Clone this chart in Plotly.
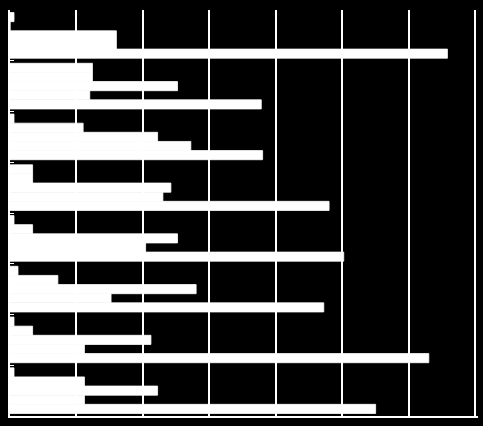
import plotly.graph_objects as go

categories = ["G1", "G2", "G3", "G4", "G5", "G6", "G7", "G8"]
series_names = ["S1", "S2", "S3", "S4", "S5"]
s1 = [0.3, 6.2, 0.3, 1.7, 0.3, 0.6, 0.3, 0.3]
s2 = [0.0, 6.2, 5.5, 1.7, 1.7, 3.6, 1.7, 5.6]
s3 = [8.0, 12.6, 11.1, 12.1, 12.6, 14.0, 10.6, 11.1]
s4 = [8.0, 6.0, 13.6, 11.5, 10.2, 7.6, 5.6, 5.6]
s5 = [32.9, 18.9, 19.0, 24.0, 25.1, 23.6, 31.5, 27.5]
series = [s1, s2, s3, s4, s5]

fig = go.Figure()
for name, vals in zip(series_names, series):
    fig.add_trace(go.Bar(
        y=categories, x=vals, name=name, orientation="h",
        marker=dict(color="white", line=dict(width=0.8, color="white")),
    ))

fig.update_layout(
    width=483, height=426,
    paper_bgcolor="black", plot_bgcolor="black",
    margin=dict(l=10, r=5, t=10, b=10),
    barmode="group", bargap=0.1, bargroupgap=0,
    showlegend=False,
    xaxis=dict(range=[0, 35.2], tickvals=[0, 5, 10, 15, 20, 25, 30, 35], showgrid=True,
               gridcolor="white", gridwidth=2,
               showticklabels=False, zeroline=False, showline=True, linecolor="white",
               linewidth=2, ticks="inside", ticklen=4, tickcolor="white", mirror=False),
    yaxis=dict(autorange="reversed", showticklabels=False, showgrid=False,
               showline=True, linecolor="white", linewidth=2, ticks="inside",
               tickson="boundaries", ticklen=4, tickcolor="white"),
)
fig.write_html("out.html", config={"displayModeBar": False},
               post_script="document.body.style.margin='0';")
